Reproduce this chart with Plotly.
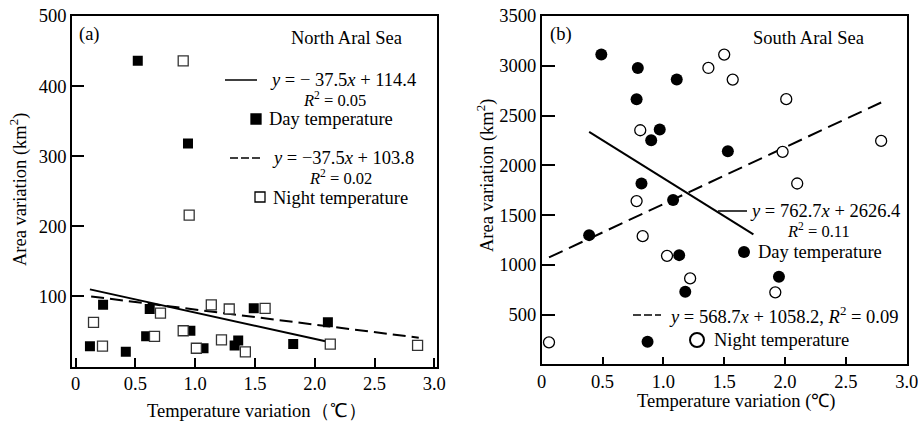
import plotly.graph_objects as go

W, H = 918, 421

# ---------------- data ----------------
# North Aral Sea (a)
north_day_x = [0.12, 0.23, 0.42, 0.52, 0.59, 0.62, 0.94, 0.96, 1.07, 1.33, 1.36, 1.49, 1.82, 2.11]
north_day_y = [29, 88, 21, 436, 43, 82, 318, 51, 26, 30, 37, 83, 32, 63]
north_night_x = [0.15, 0.225, 0.66, 0.71, 0.90, 0.90, 0.95, 1.01, 1.135, 1.22, 1.285, 1.42, 1.585, 2.13, 2.86]
north_night_y = [63, 29, 43, 76, 51, 436, 216, 26, 88, 38, 82, 21, 83, 32, 30]
north_day_fit_x = [0.12, 2.09]
north_day_fit_y = [110, 36]
north_night_fit_x = [0.13, 2.87]
north_night_fit_y = [100, 41]

# South Aral Sea (b)
south_day_x = [0.49, 0.79, 1.11, 0.78, 0.97, 0.90, 1.53, 0.82, 1.08, 0.39, 1.13, 1.18, 1.95, 0.87]
south_day_y = [3112, 2978, 2861, 2664, 2359, 2252, 2142, 1817, 1650, 1298, 1097, 729, 880, 227]
south_night_x = [0.06, 0.78, 0.81, 0.83, 1.03, 1.22, 1.37, 1.50, 1.57, 2.01, 1.98, 2.10, 1.92, 2.79]
south_night_y = [221, 1640, 2352, 1288, 1090, 863, 2978, 3112, 2861, 2664, 2135, 1817, 723, 2245]
south_day_fit_x = [0.39, 1.74]
south_day_fit_y = [2335, 1305]
south_night_fit_x = [0.06, 2.79]
south_night_fit_y = [1074, 2631]

x_tickvals = [0, 0.5, 1.0, 1.5, 2.0, 2.5, 3.0]
x_ticktext = ["0", "0.5", "1.0", "1.5", "2.0", "2.5", "3.0"]
north_y_tickvals = [100, 200, 300, 400, 500]
south_y_tickvals = [500, 1000, 1500, 2000, 2500, 3000, 3500]

FONT = "Liberation Serif, Times New Roman, serif"
FS = 18.5
FS_R2 = 16.5


def px(x):
    return x / W


def py(y):
    return 1 - y / H


fig = go.Figure()

# North traces
fig.add_trace(go.Scatter(x=north_day_fit_x, y=north_day_fit_y, mode="lines",
                         line=dict(color="black", width=2), xaxis="x", yaxis="y", showlegend=False))
fig.add_trace(go.Scatter(x=north_night_fit_x, y=north_night_fit_y, mode="lines",
                         line=dict(color="black", width=2, dash="13px,6px"), xaxis="x", yaxis="y", showlegend=False))
fig.add_trace(go.Scatter(x=north_day_x, y=north_day_y, mode="markers",
                         marker=dict(symbol="square", size=10, color="black", line=dict(width=0)),
                         xaxis="x", yaxis="y", showlegend=False))
fig.add_trace(go.Scatter(x=north_night_x, y=north_night_y, mode="markers",
                         marker=dict(symbol="square", size=10, color="white", line=dict(width=1.3, color="#333")),
                         xaxis="x", yaxis="y", showlegend=False))

# South traces
fig.add_trace(go.Scatter(x=south_day_fit_x, y=south_day_fit_y, mode="lines",
                         line=dict(color="black", width=2), xaxis="x2", yaxis="y2", showlegend=False))
fig.add_trace(go.Scatter(x=south_night_fit_x, y=south_night_fit_y, mode="lines",
                         line=dict(color="black", width=2, dash="15px,7px"), xaxis="x2", yaxis="y2", showlegend=False))
fig.add_trace(go.Scatter(x=south_day_x, y=south_day_y, mode="markers",
                         marker=dict(symbol="circle", size=12, color="black", line=dict(width=0)),
                         xaxis="x2", yaxis="y2", showlegend=False))
fig.add_trace(go.Scatter(x=south_night_x, y=south_night_y, mode="markers",
                         marker=dict(symbol="circle", size=11, color="white", line=dict(width=1.3, color="black")),
                         xaxis="x2", yaxis="y2", showlegend=False))

axis_common = dict(showgrid=False, zeroline=False, showline=True, linecolor="black", linewidth=1.5,
                   mirror=True, ticks="inside", tickcolor="black", tickwidth=1.5, automargin=False,
                   ticklabeloverflow="allow",
                   tickfont=dict(family=FONT, size=FS, color="black"))

fig.update_layout(
    template="none",
    width=W, height=H,
    margin=dict(l=0, r=0, t=0, b=0, pad=0, autoexpand=False),
    paper_bgcolor="white", plot_bgcolor="white",
    font=dict(family=FONT, size=FS, color="black"),
    xaxis=dict(domain=[px(72), px(436.7)], range=[-0.03, 3.02], tickvals=x_tickvals, ticktext=x_ticktext,
               ticklen=9, anchor="y", **axis_common),
    yaxis=dict(domain=[py(366.5), py(16)], range=[0, 500], tickvals=north_y_tickvals, ticklen=12,
               anchor="x", **axis_common),
    xaxis2=dict(domain=[px(541.7), px(906.7)], range=[0, 3.0], tickvals=x_tickvals, ticktext=x_ticktext,
                ticklen=8, anchor="y2", **axis_common),
    yaxis2=dict(domain=[py(364.3), py(16)], range=[0, 3500], tickvals=south_y_tickvals, ticklen=14,
                anchor="x2", **axis_common),
)

anns = []


def ann(x, y, text, size=FS, xanchor="center", angle=0):
    anns.append(dict(x=px(x), y=py(y), xref="paper", yref="paper", text=text, showarrow=False,
                     xanchor=xanchor, yanchor="middle", textangle=angle,
                     font=dict(family=FONT, size=size, color="black")))


# axis titles
ann(257, 411, "Temperature variation（℃）")
ann(19, 190, "Area variation (km<sup>2</sup>)", angle=-90)
ann(736, 401, "Temperature variation (℃)")
ann(485, 176, "Area variation (km<sup>2</sup>)", angle=-90)

# panel (a)
ann(77, 34, "(a)", xanchor="left")
ann(346, 38, "North Aral Sea")
ann(343, 80, "<i>y</i> = − 37.5<i>x</i> + 114.4")
ann(334, 99, "<i>R</i><sup>2</sup> = 0.05", size=FS_R2)
ann(267, 119, "Day temperature", xanchor="left")
ann(343, 158, "<i>y</i> = −37.5<i>x</i> + 103.8")
ann(340, 177, "<i>R</i><sup>2</sup> = 0.02", size=FS_R2)
ann(271, 198, "Night temperature", xanchor="left")

# panel (b)
ann(548, 34, "(b)", xanchor="left")
ann(808, 38, "South Aral Sea")
ann(748, 211, "<i>y</i> = 762.7<i>x</i> + 2626.4", xanchor="left")
ann(818, 230, "<i>R</i><sup>2</sup> = 0.11", size=FS_R2)
ann(756, 252, "Day temperature", xanchor="left")
ann(667, 315, "<i>y</i> = 568.7<i>x</i> + 1058.2, <i>R</i><sup>2</sup> = 0.09", xanchor="left")
ann(712, 340, "Night temperature", xanchor="left")

fig.update_layout(annotations=anns)

shapes = []


def hline(x0, x1, y, dash="solid", width=1.5):
    shapes.append(dict(type="line", xref="paper", yref="paper", x0=px(x0), x1=px(x1), y0=py(y), y1=py(y),
                       line=dict(color="black", width=width, dash=dash)))


def box(cx, cy, s, kind, fill, lw=1.3):
    shapes.append(dict(type=kind, xref="paper", yref="paper", x0=px(cx - s / 2), x1=px(cx + s / 2),
                       y0=py(cy + s / 2), y1=py(cy - s / 2), fillcolor=fill,
                       line=dict(color="black", width=lw)))


hline(225, 257, 80)
hline(230, 262, 158, dash="8px,3px")
box(256, 119, 10, "rect", "black")
box(260, 197, 10, "rect", "white")

hline(718, 747, 211)
hline(633, 661, 315, dash="8px,3px")
box(744, 252, 12, "circle", "black", lw=0)
box(697, 340, 14, "circle", "white", lw=2)

fig.update_layout(shapes=shapes)

fig.write_html("out.html",
               config={"displayModeBar": False},
               post_script="document.body.style.margin='0px';document.body.style.padding='0px';"
                           "document.documentElement.style.overflow='hidden';")
